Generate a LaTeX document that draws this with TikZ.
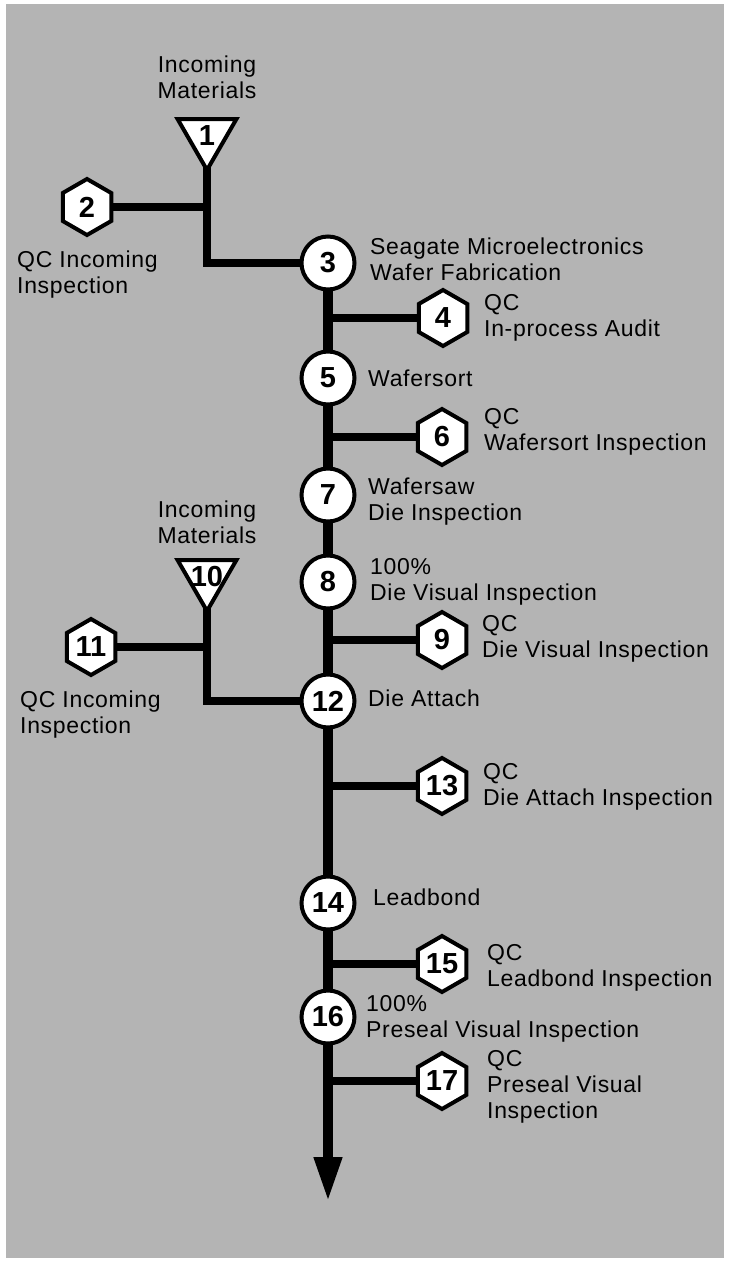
\documentclass[tikz,border=0pt]{standalone}
\usepackage{fontspec}
\setmainfont{Liberation Sans}
\newfontfamily\lblfont{Liberation Sans}[LetterSpace=3]
\usetikzlibrary{shapes.geometric,arrows.meta}
\pgfdeclarelayer{bg}
\pgfdeclarelayer{lines}
\pgfsetlayers{bg,lines,main}
\definecolor{paper}{RGB}{180,180,180}
\newcommand\mynumfont{\fontsize{29}{30}\selectfont\bfseries}
\begin{document}
\begin{tikzpicture}[x=1pt,y=-1pt,
  proc/.style={circle,draw,line width=4pt,fill=white,minimum size=53pt,inner sep=0pt,font=\mynumfont},
  qcbox/.style={regular polygon,regular polygon sides=6,shape border rotate=30,draw,line width=4pt,fill=white,minimum size=56pt,inner sep=0pt,font=\mynumfont},
  inbox/.style={regular polygon,regular polygon sides=3,shape border rotate=180,draw,line width=4pt,fill=white,minimum size=68pt,inner sep=0pt,font=\mynumfont},
  lbl/.style={inner sep=0pt,align=left,font=\lblfont\fontsize{23}{26}\selectfont},
  lblc/.style={inner sep=0pt,align=center,font=\lblfont\fontsize{23}{26}\selectfont},
  mainline/.style={line width=10pt},
  branch/.style={line width=8.5pt}]
\useasboundingbox (0,0) rectangle (730,1261);
\begin{pgfonlayer}{bg}
\fill[white] (0,0) rectangle (730,1261);
\fill[paper] (6,4) rectangle (724,1258);
\end{pgfonlayer}
% shapes
\node[inbox] (t1) at (207,136) {\makebox[0pt]{1}};
\node[qcbox] (h2) at (87,207) {2};
\node[proc] (c3) at (328,263) {3};
\node[qcbox] (h4) at (443,318) {4};
\node[proc] (c5) at (328,378) {5};
\node[qcbox] (h6) at (442,437) {6};
\node[proc] (c7) at (328,495) {7};
\node[proc] (c8) at (328,582) {8};
\node[qcbox] (h9) at (442,640) {9};
\node[inbox] (t10) at (207,577) {\makebox[0pt]{10}};
\node[qcbox] (h11) at (91,647) {11};
\node[proc] (c12) at (328,701) {12};
\node[qcbox] (h13) at (442,786) {13};
\node[proc] (c14) at (328,903) {14};
\node[qcbox] (h15) at (442,964) {15};
\node[proc] (c16) at (328,1017) {16};
\node[qcbox] (h17) at (442,1081) {17};
\coordinate (tipend) at (328,1202);
% labels
\node[lblc] (l1) at (207,77.5) {Incoming\\Materials};
\node[lbl,anchor=west] (l2) at (17,275) {QC Incoming\\Inspection};
\node[lbl,anchor=west] (l3) at (370,259.5) {Seagate Microelectronics\\Wafer Fabrication};
\node[lbl,anchor=west] (l4) at (484,318) {QC\\In-process Audit};
\node[lbl,anchor=west] (l5) at (368,378) {Wafersort};
\node[lbl,anchor=west] (l6) at (484,431.5) {QC\\Wafersort Inspection};
\node[lbl,anchor=west] (l7) at (368,501.5) {Wafersaw\\Die Inspection};
\node[lbl,anchor=west] (l8) at (370,581.5) {100\%\\Die Visual Inspection};
\node[lbl,anchor=west] (l9) at (482,639) {QC\\Die Visual Inspection};
\node[lblc] (l10) at (207,522.5) {Incoming\\Materials};
\node[lbl,anchor=west] (l11) at (20,715) {QC Incoming\\Inspection};
\node[lbl,anchor=west] (l12) at (368,698) {Die Attach};
\node[lbl,anchor=west] (l13) at (483,786.5) {QC\\Die Attach Inspection};
\node[lbl,anchor=west] (l14) at (373,897) {Leadbond};
\node[lbl,anchor=west] (l15) at (487,967.5) {QC\\Leadbond Inspection};
\node[lbl,anchor=west] (l16) at (366,1018.5) {100\%\\Preseal Visual Inspection};
\node[lbl,anchor=west] (l17) at (487,1086.5) {QC\\Preseal Visual\\Inspection};
% connectors
\begin{pgfonlayer}{lines}
\draw[mainline] (c3.center) -- (c16.center);
\draw[mainline,-{Triangle[length=45pt,width=26pt]}] (c16.center) -- (tipend);
\draw[branch] (t1.center) |- (c3.center);
\draw[branch] (h2.center) -- (h2 -| t1);
\draw[branch] (t10.center) |- (c12.center);
\draw[branch] (h11.center) -- (h11 -| t10);
\draw[branch] (h4.center) -- (h4 -| c3);
\draw[branch] (h6.center) -- (h6 -| c3);
\draw[branch] (h9.center) -- (h9 -| c3);
\draw[branch] (h13.center) -- (h13 -| c3);
\draw[branch] (h15.center) -- (h15 -| c3);
\draw[branch] (h17.center) -- (h17 -| c3);
\end{pgfonlayer}
\end{tikzpicture}
\end{document}
